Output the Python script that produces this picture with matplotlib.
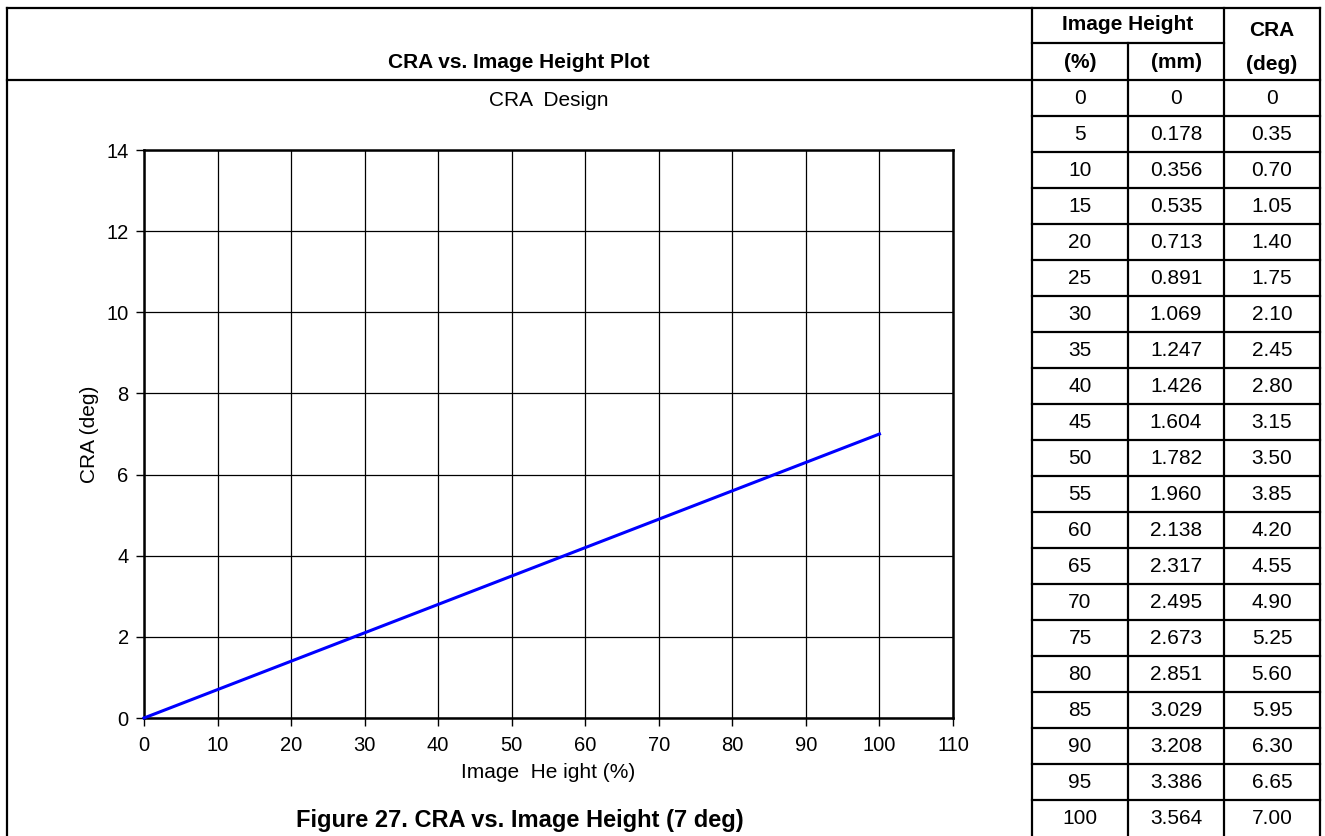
import matplotlib.pyplot as plt
from matplotlib.lines import Line2D

plt.rcParams['font.family'] = ['Liberation Sans', 'DejaVu Sans']

# table data
height_pct = [0, 5, 10, 15, 20, 25, 30, 35, 40, 45, 50, 55, 60, 65, 70, 75, 80, 85, 90, 95, 100]
height_mm = ['0', '0.178', '0.356', '0.535', '0.713', '0.891', '1.069', '1.247', '1.426', '1.604',
             '1.782', '1.960', '2.138', '2.317', '2.495', '2.673', '2.851', '3.029', '3.208', '3.386', '3.564']
cra_deg = [0, 0.35, 0.70, 1.05, 1.40, 1.75, 2.10, 2.45, 2.80, 3.15, 3.50, 3.85,
           4.20, 4.55, 4.90, 5.25, 5.60, 5.95, 6.30, 6.65, 7.00]
x_ticks = list(range(0, 111, 10))
y_ticks = list(range(0, 15, 2))

W, H = 1325, 836
fig = plt.figure(figsize=(W / 100, H / 100), dpi=100)


def px(x, y):
    return x / W, 1 - y / H


def hline(y, x0, x1, lw=1.6):
    (a, b), (c, d) = px(x0, y), px(x1, y)
    fig.add_artist(Line2D([a, c], [b, d], color='black', lw=lw, transform=fig.transFigure))


def vline(x, y0, y1, lw=1.6):
    (a, b), (c, d) = px(x, y0), px(x, y1)
    fig.add_artist(Line2D([a, c], [b, d], color='black', lw=lw, transform=fig.transFigure))


def txt(x, y, s, **kw):
    a, b = px(x, y)
    fig.text(a, b, s, ha='center', va='center', **kw)


# frame and table grid
hline(8, 7, 1320)
hline(80, 7, 1320)
hline(43, 1032, 1224)
vline(7, 8, 836)
vline(1032, 8, 836)
vline(1128, 43, 836)
vline(1224, 8, 836)
vline(1320, 8, 836)
row_h = 36
for k in range(1, len(height_pct)):
    hline(80 + row_h * k, 1032, 1320)

# headers
txt(519, 62, 'CRA vs. Image Height Plot', fontsize=15, fontweight='bold')
txt(1128, 25, 'Image Height', fontsize=15, fontweight='bold')
txt(1080, 62, '(%)', fontsize=15, fontweight='bold')
txt(1176, 62, '(mm)', fontsize=15, fontweight='bold')
txt(1272, 31, 'CRA', fontsize=15, fontweight='bold')
txt(1272, 64, '(deg)', fontsize=15, fontweight='bold')

for i in range(len(height_pct)):
    yc = 80 + row_h * i + row_h / 2
    txt(1080, yc, str(height_pct[i]), fontsize=15)
    txt(1176, yc, height_mm[i], fontsize=15)
    txt(1272, yc, '0' if cra_deg[i] == 0 else '%.2f' % cra_deg[i], fontsize=15)

# chart
l, r, t, b = 144, 953, 150, 718
ax = fig.add_axes([l / W, 1 - b / H, (r - l) / W, (b - t) / H])
ax.plot(height_pct, cra_deg, color='#0000ff', lw=2.2, clip_on=False, zorder=3)
ax.set_xlim(0, 110)
ax.set_ylim(0, 14)
ax.set_xticks(x_ticks)
ax.set_yticks(y_ticks)
ax.grid(True, color='black', lw=0.9)
ax.set_axisbelow(True)
for s in ax.spines.values():
    s.set_linewidth(1.8)
ax.tick_params(direction='out', length=6, width=1, labelsize=14.5, pad=5)
ax.tick_params(axis='x', pad=7)
ax.set_title('CRA  Design', fontsize=15, pad=32)
ax.set_xlabel('Image  He ight (%)', fontsize=15, labelpad=6)
ax.set_ylabel('CRA (deg)', fontsize=15, labelpad=5)

txt(520, 821, 'Figure 27. CRA vs. Image Height (7 deg)', fontsize=17, fontweight='bold')

fig.savefig('out.png', dpi=100)
